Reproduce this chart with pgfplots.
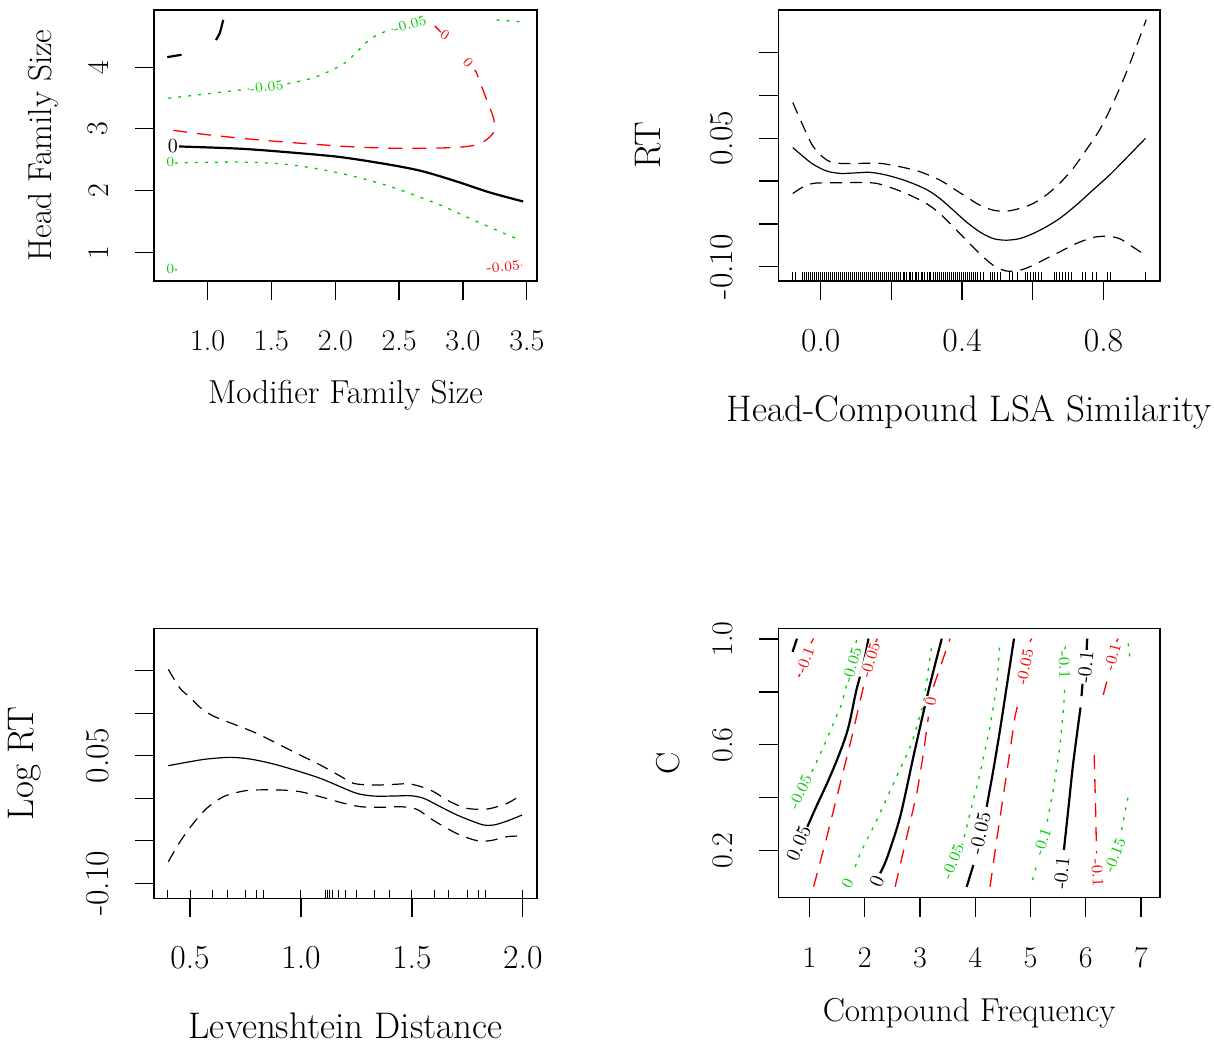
\documentclass[border=0pt]{standalone}
\usepackage{fontspec}
\usepackage{pgfplots}
\pgfplotsset{compat=1.18}

\definecolor{rred}{RGB}{255,0,0}
\definecolor{rgreen}{RGB}{0,205,0}

\newcommand{\fA}{\fontsize{15}{18}\selectfont}
\newcommand{\fB}{\fontsize{16.8}{20}\selectfont}
\newcommand{\lA}{\fontsize{16.6}{20}\selectfont}
\newcommand{\lB}{\fontsize{18.5}{22}\selectfont}

\tikzset{
  lk/.style={font=\fontsize{10}{12}\selectfont, text=black, fill=white, inner sep=0.4pt},
  lr/.style={font=\fontsize{7}{8}\selectfont, text=rred, fill=white, inner sep=0.4pt},
  lg/.style={font=\fontsize{7}{8}\selectfont, text=rgreen, fill=white, inner sep=0.4pt},
  lr4/.style={lr, font=\fontsize{8}{9}\selectfont},
  lg4/.style={lg, font=\fontsize{8}{9}\selectfont},
}
\pgfplotsset{
  gam/.style 2 args={
    scale only axis, anchor=south west,
    axis line style={line width=0.65pt},
    tick pos=left, tick align=outside,
    major tick length=9.5pt,
    every tick/.style={line width=0.65pt, black},
    xticklabel style={anchor=north, inner ysep=#1},
    yticklabel style={rotate=90, anchor=south, inner ysep=#2},
    label style={inner sep=0pt},
  },
  fit/.style={black, line width=0.6pt, smooth, tension=0.5},
  se/.style={black, line width=0.6pt, smooth, tension=0.5, dash pattern=on 6pt off 4pt},
  c0/.style={black, line width=1.1pt},
  cp/.style={rred, line width=0.65pt, dash pattern=on 7pt off 5pt},
  cm/.style={rgreen, line width=0.65pt, dash pattern=on 1.5pt off 3.5pt},
  rug/.style={only marks, mark=|, black, mark options={line width=0.5pt}},
}

\begin{document}
\begin{tikzpicture}
\path[use as bounding box] (0,0) rectangle (607pt,522.5pt);

% ---- top left: contour, Modifier x Head family size
\begin{axis}[gam={15.1pt}{13.1pt},
  at={(77pt,382pt)}, width=191.5pt, height=135.5pt,
  xmin=0.58, xmax=3.58, ymin=0.533, ymax=4.927,
  xtick={1,1.5,2,2.5,3,3.5}, xticklabels={1.0,1.5,2.0,2.5,3.0,3.5},
  ytick={1,2,3,4}, yticklabels={1,2,3,4},
  tick label style={font=\fA},
  label style={font=\lA},
  xlabel={Modifier Family Size}, ylabel={Head Family Size},
  xlabel style={at={(axis description cs:0.5,-0.4207)}, anchor=center},
  ylabel style={at={(axis description cs:-0.29,0.5)}, anchor=center},
]
\addplot[c0, smooth] coordinates {(0.765,2.715) (1.253,2.678) (1.644,2.618) (2.036,2.543) (2.428,2.418) (2.689,2.309) (2.950,2.147) (3.211,1.968) (3.472,1.822)};
\addplot[c0] coordinates {(0.684,4.163) (0.796,4.201)};
\addplot[c0, smooth] coordinates {(1.065,4.44) (1.096,4.559) (1.122,4.765)};
\addplot[cp, smooth] coordinates {(0.731,2.976) (0.992,2.906) (1.383,2.824) (1.775,2.759) (2.167,2.705) (2.558,2.683) (2.950,2.699) (3.132,2.759) (3.237,2.933) (3.242,3.150) (3.185,3.475) (3.106,3.908) (3.093,3.936)};
\addplot[cp] coordinates {(2.832,4.559) (2.780,4.667)};
\addplot[cm, smooth] coordinates {(0.692,3.496) (0.992,3.567) (1.331,3.648) (1.462,3.681) (1.592,3.719) (1.827,3.827) (2.036,4.017) (2.114,4.136) (2.271,4.450) (2.401,4.586) (2.584,4.694) (2.689,4.748)};
\addplot[cm] coordinates {(3.263,4.765) (3.472,4.732)};
\addplot[cm, smooth] coordinates {(0.744,2.445) (1.253,2.461) (1.644,2.418) (2.036,2.282) (2.428,2.066) (2.819,1.767) (3.080,1.523) (3.432,1.209)};
\addplot[cm] coordinates {(0.735,0.718) (0.765,0.715)};
\addplot[cp] coordinates {(3.38,0.775) (3.46,0.79)};
\node[lk] at (axis cs:0.727,2.715) {0};
\node[lg] at (axis cs:0.709,2.455) {0};
\node[lg] at (axis cs:0.709,0.721) {0};
\node[lg, rotate=7] at (axis cs:1.462,3.681) {-0.05};
\node[lg, rotate=15] at (axis cs:2.584,4.694) {-0.05};
\node[lr, rotate=-50] at (axis cs:3.041,4.071) {0};
\node[lr, rotate=-34] at (axis cs:2.858,4.521) {0};
\node[lr, rotate=5] at (axis cs:3.315,0.764) {-0.05};
\end{axis}

% ---- top right: Head-Compound LSA Similarity
\begin{axis}[gam={14.5pt}{12.9pt},
  at={(389.15pt,382pt)}, width=190.85pt, height=135.5pt,
  xmin=-0.12, xmax=0.96, ymin=-0.1168, ymax=0.2,
  xtick={0,0.2,0.4,0.6,0.8}, xticklabels={0.0,,0.4,,0.8},
  ytick={-0.10,-0.05,0,0.05,0.10,0.15}, yticklabels={-0.10,,,0.05,,},
  tick label style={font=\fB},
  label style={font=\lB},
  xlabel={Head-Compound LSA Similarity}, ylabel={RT},
  xlabel style={at={(axis description cs:0.5,-0.4834)}, anchor=center},
  ylabel style={at={(axis description cs:-0.3414,0.5)}, anchor=center},
]
\addplot[fit] coordinates {(-0.079,0.0391) (-0.049,0.0285) (-0.021,0.0195) (0.017,0.0117) (0.055,0.0090) (0.092,0.0094) (0.139,0.0102) (0.186,0.0070) (0.243,0.0) (0.299,-0.0098) (0.337,-0.0203) (0.375,-0.0340) (0.412,-0.0477) (0.450,-0.0594) (0.488,-0.0672) (0.525,-0.0691) (0.563,-0.0672) (0.601,-0.0613) (0.638,-0.0535) (0.676,-0.0437) (0.723,-0.0281) (0.770,-0.0105) (0.817,0.0070) (0.864,0.0266) (0.919,0.0500)};
\addplot[se] coordinates {(-0.079,0.0918) (-0.049,0.0637) (-0.021,0.0402) (0.017,0.0246) (0.055,0.0207) (0.111,0.0207) (0.168,0.0207) (0.224,0.0168) (0.281,0.0109) (0.337,0.0012) (0.375,-0.0086) (0.412,-0.0184) (0.450,-0.0281) (0.488,-0.0340) (0.525,-0.0352) (0.563,-0.0320) (0.601,-0.0262) (0.638,-0.0164) (0.676,-0.0027) (0.714,0.0148) (0.751,0.0363) (0.789,0.0598) (0.827,0.0910) (0.864,0.1262) (0.893,0.1574) (0.921,0.1887)};
\addplot[se] coordinates {(-0.079,-0.0145) (-0.049,-0.0066) (-0.021,-0.0027) (0.017,-0.0020) (0.064,-0.0020) (0.111,-0.0016) (0.158,-0.0027) (0.205,-0.0086) (0.252,-0.0164) (0.299,-0.0262) (0.337,-0.0379) (0.375,-0.0535) (0.412,-0.0691) (0.450,-0.0848) (0.488,-0.0984) (0.525,-0.1051) (0.563,-0.1043) (0.601,-0.0984) (0.638,-0.0906) (0.676,-0.0828) (0.723,-0.0730) (0.770,-0.0660) (0.808,-0.0645) (0.845,-0.0672) (0.883,-0.0770) (0.919,-0.0867)};
\addplot[rug, mark size=2.2pt] table[row sep=\\] {
x y\\
-0.079 -0.1117\\ -0.072 -0.1117\\ -0.052 -0.1117\\ -0.046 -0.1117\\ -0.041 -0.1117\\ -0.035 -0.1117\\
-0.029 -0.1117\\ -0.024 -0.1117\\ -0.018 -0.1117\\ -0.012 -0.1117\\ -0.007 -0.1117\\ -0.001 -0.1117\\
0.005 -0.1117\\ 0.011 -0.1117\\ 0.016 -0.1117\\ 0.022 -0.1117\\ 0.028 -0.1117\\ 0.033 -0.1117\\
0.039 -0.1117\\ 0.045 -0.1117\\ 0.050 -0.1117\\ 0.056 -0.1117\\ 0.062 -0.1117\\ 0.067 -0.1117\\
0.073 -0.1117\\ 0.079 -0.1117\\ 0.085 -0.1117\\ 0.090 -0.1117\\ 0.096 -0.1117\\ 0.102 -0.1117\\
0.107 -0.1117\\ 0.113 -0.1117\\ 0.119 -0.1117\\ 0.124 -0.1117\\ 0.130 -0.1117\\ 0.136 -0.1117\\
0.141 -0.1117\\ 0.147 -0.1117\\ 0.153 -0.1117\\ 0.159 -0.1117\\ 0.164 -0.1117\\ 0.170 -0.1117\\
0.176 -0.1117\\ 0.181 -0.1117\\ 0.187 -0.1117\\ 0.193 -0.1117\\ 0.198 -0.1117\\ 0.204 -0.1117\\
0.210 -0.1117\\ 0.215 -0.1117\\ 0.221 -0.1117\\ 0.227 -0.1117\\ 0.233 -0.1117\\ 0.238 -0.1117\\
0.244 -0.1117\\ 0.250 -0.1117\\ 0.255 -0.1117\\ 0.261 -0.1117\\ 0.267 -0.1117\\ 0.272 -0.1117\\
0.278 -0.1117\\ 0.284 -0.1117\\ 0.289 -0.1117\\ 0.295 -0.1117\\ 0.301 -0.1117\\ 0.307 -0.1117\\
0.312 -0.1117\\ 0.318 -0.1117\\ 0.324 -0.1117\\ 0.329 -0.1117\\ 0.335 -0.1117\\ 0.341 -0.1117\\
0.346 -0.1117\\ 0.352 -0.1117\\ 0.358 -0.1117\\ 0.363 -0.1117\\ 0.369 -0.1117\\ 0.375 -0.1117\\
0.381 -0.1117\\ 0.386 -0.1117\\ 0.392 -0.1117\\ 0.398 -0.1117\\ 0.403 -0.1117\\ 0.409 -0.1117\\
0.415 -0.1117\\ 0.420 -0.1117\\ 0.426 -0.1117\\ 0.432 -0.1117\\ 0.438 -0.1117\\ 0.444 -0.1117\\
0.452 -0.1117\\ 0.461 -0.1117\\ 0.480 -0.1117\\ 0.486 -0.1117\\ 0.493 -0.1117\\ 0.501 -0.1117\\
0.508 -0.1117\\ 0.533 -0.1117\\ 0.544 -0.1117\\ 0.558 -0.1117\\ 0.578 -0.1117\\ 0.586 -0.1117\\
0.593 -0.1117\\ 0.601 -0.1117\\ 0.608 -0.1117\\ 0.616 -0.1117\\ 0.625 -0.1117\\ 0.661 -0.1117\\
0.668 -0.1117\\ 0.676 -0.1117\\ 0.683 -0.1117\\ 0.693 -0.1117\\ 0.701 -0.1117\\ 0.710 -0.1117\\
0.740 -0.1117\\ 0.749 -0.1117\\ 0.770 -0.1117\\ 0.780 -0.1117\\ 0.810 -0.1117\\ 0.819 -0.1117\\
0.919 -0.1117\\
};
\end{axis}

% ---- bottom left: Levenshtein Distance
\begin{axis}[gam={14.5pt}{12.9pt},
  at={(77pt,73.35pt)}, width=191.5pt, height=135pt,
  xmin=0.3375, xmax=2.064, ymin=-0.1176, ymax=0.2,
  xtick={0.5,1.0,1.5,2.0}, xticklabels={0.5,1.0,1.5,2.0},
  ytick={-0.10,-0.05,0,0.05,0.10,0.15}, yticklabels={-0.10,,,0.05,,},
  tick label style={font=\fB},
  label style={font=\lB},
  xlabel={Levenshtein Distance}, ylabel={Log RT},
  xlabel style={at={(axis description cs:0.5,-0.474)}, anchor=center},
  ylabel style={at={(axis description cs:-0.3368,0.5)}, anchor=center},
]
\addplot[fit] coordinates {(0.402,0.0384) (0.5,0.0431) (0.575,0.0462) (0.681,0.0482) (0.771,0.0462) (0.876,0.0404) (0.981,0.0325) (1.087,0.0235) (1.177,0.0137) (1.252,0.0058) (1.327,0.0027) (1.418,0.0027) (1.493,0.0031) (1.553,0.0) (1.628,-0.0098) (1.703,-0.0196) (1.779,-0.0275) (1.824,-0.0314) (1.869,-0.0314) (1.929,-0.0267) (1.997,-0.0196)};
\addplot[se] coordinates {(0.402,0.1517) (0.455,0.1294) (0.5,0.1188) (0.545,0.1070) (0.605,0.0968) (0.711,0.0858) (0.801,0.0764) (0.906,0.0627) (0.996,0.0509) (1.087,0.0392) (1.177,0.0262) (1.237,0.0176) (1.327,0.0156) (1.418,0.0164) (1.493,0.0168) (1.583,0.0098) (1.673,-0.0040) (1.749,-0.0118) (1.839,-0.0126) (1.929,-0.0059) (1.997,0.0047)};
\addplot[se] coordinates {(0.402,-0.0746) (0.455,-0.0510) (0.515,-0.0294) (0.575,-0.0118) (0.650,0.0019) (0.726,0.0078) (0.786,0.0098) (0.906,0.0098) (0.996,0.0078) (1.087,0.0019) (1.177,-0.0047) (1.267,-0.0098) (1.357,-0.0106) (1.448,-0.0098) (1.523,-0.0130) (1.583,-0.0236) (1.658,-0.0353) (1.718,-0.0432) (1.794,-0.0498) (1.854,-0.0498) (1.929,-0.0451) (1.997,-0.0443)};
\addplot[rug, mark size=2.1pt] table[row sep=\\] {
x y\\
0.400 -0.1128\\ 0.500 -0.1128\\ 0.600 -0.1128\\ 0.667 -0.1128\\ 0.750 -0.1128\\ 0.800 -0.1128\\
0.833 -0.1128\\ 1.000 -0.1128\\ 1.111 -0.1128\\ 1.120 -0.1128\\ 1.130 -0.1128\\ 1.143 -0.1128\\
1.167 -0.1128\\ 1.200 -0.1128\\ 1.250 -0.1128\\ 1.333 -0.1128\\ 1.400 -0.1128\\ 1.500 -0.1128\\
1.600 -0.1128\\ 1.667 -0.1128\\ 1.750 -0.1128\\ 1.800 -0.1128\\ 1.833 -0.1128\\ 2.000 -0.1128\\
};
\end{axis}

% ---- bottom right: contour, Compound Frequency x C
\begin{axis}[gam={15.1pt}{13.1pt},
  at={(389.15pt,73.65pt)}, width=190.85pt, height=134.7pt,
  xmin=0.434, xmax=7.346, ymin=0.0226, ymax=1.04,
  xtick={1,2,3,4,5,6,7}, xticklabels={1,2,3,4,5,6,7},
  ytick={0.2,0.4,0.6,0.8,1.0}, yticklabels={0.2,,0.6,,1.0},
  tick label style={font=\fA},
  label style={font=\lA},
  xlabel={Compound Frequency}, ylabel={C},
  xlabel style={at={(axis description cs:0.5,-0.428)}, anchor=center},
  ylabel style={at={(axis description cs:-0.289,0.5)}, anchor=center},
]
% +se (red, dashed)
\addplot[cp] coordinates {(0.802,0.857) (0.832,0.869)};
\addplot[cp] coordinates {(1.025,0.983) (1.073,1.001)};
\addplot[cp] coordinates {(1.073,0.064) (1.314,0.253) (1.555,0.454) (1.766,0.630) (1.947,0.794) (1.99,0.832)};
\addplot[cp] coordinates {(2.19,0.985) (2.23,1.001)};
\addplot[cp] coordinates {(2.550,0.064) (2.761,0.253) (2.942,0.416) (3.062,0.567) (3.152,0.706)};
\addplot[cp] coordinates {(3.243,0.819) (3.544,1.001)};
\addplot[cp] coordinates {(4.268,0.064) (4.388,0.240) (4.569,0.492) (4.720,0.706) (4.80,0.78)};
\addplot[cp] coordinates {(4.99,0.989) (5.021,1.001)};
\addplot[cp] coordinates {(6.154,0.561) (6.176,0.39) (6.197,0.190)};
\addplot[cp] coordinates {(6.317,0.788) (6.42,0.869)};
\addplot[cp] coordinates {(6.558,0.989) (6.588,1.001)};
% -se (green, dotted)
\addplot[cm] coordinates {(1.043,0.498) (1.254,0.593) (1.585,0.756) (1.676,0.832)};
\addplot[cm] coordinates {(1.84,0.985) (1.857,1.001)};
\addplot[cm] coordinates {(1.826,0.140) (1.917,0.190) (2.218,0.316) (2.520,0.454) (2.851,0.605) (3.062,0.756) (3.213,0.976)};
\addplot[cm] coordinates {(3.755,0.215) (3.906,0.341) (4.087,0.492) (4.268,0.668) (4.388,0.819) (4.448,0.989)};
\addplot[cm] coordinates {(5.039,0.089) (5.112,0.146)};
\addplot[cm] coordinates {(5.304,0.310) (5.413,0.429) (5.533,0.593) (5.606,0.756) (5.624,0.832)};
\addplot[cm] coordinates {(5.628,0.96) (5.630,0.99)};
\addplot[cm] coordinates {(6.649,0.278) (6.787,0.423)};
\addplot[cm] coordinates {(6.769,0.983) (6.799,0.932)};
% fit (black)
\addplot[c0] coordinates {(0.693,0.951) (0.772,1.001)};
\addplot[c0, smooth] coordinates {(0.940,0.281) (1.133,0.372) (1.344,0.467) (1.555,0.574) (1.706,0.668) (1.844,0.803) (1.977,0.907) (2.067,1.001)};
\addplot[c0, smooth] coordinates {(2.278,0.115) (2.399,0.171) (2.640,0.328) (2.893,0.567) (3.152,0.803) (3.394,1.001)};
\addplot[c0] coordinates {(3.846,0.064) (3.966,0.146)};
\addplot[c0, smooth] coordinates {(4.207,0.366) (4.328,0.505) (4.448,0.655) (4.569,0.819) (4.702,1.001)};
\addplot[c0, smooth] coordinates {(5.606,0.203) (5.684,0.354) (5.774,0.530) (5.907,0.741)};
\addplot[c0] coordinates {(5.925,0.784) (5.943,0.832)};
\addplot[c0] coordinates {(6.016,0.951) (6.028,1.001)};
% contour labels
\node[lk, rotate=66] at (axis cs:0.802,0.228) {0.05};
\node[lk, rotate=67] at (axis cs:2.218,0.083) {0};
\node[lk, rotate=77] at (axis cs:4.087,0.266) {-0.05};
\node[lk, rotate=84] at (axis cs:5.564,0.115) {-0.1};
\node[lk, rotate=84] at (axis cs:5.998,0.894) {-0.1};
\node[lr4, rotate=69] at (axis cs:0.922,0.920) {-0.1};
\node[lr4, rotate=73] at (axis cs:2.098,0.920) {-0.05};
\node[lr4, rotate=80] at (axis cs:3.195,0.762) {0};
\node[lr4, rotate=78] at (axis cs:4.901,0.894) {-0.05};
\node[lr4, rotate=-87] at (axis cs:6.215,0.115) {-0.1};
\node[lr4, rotate=75] at (axis cs:6.486,0.932) {-0.1};
\node[lg4, rotate=65] at (axis cs:0.832,0.423) {-0.05};
\node[lg4, rotate=73] at (axis cs:1.766,0.901) {-0.05};
\node[lg4, rotate=63] at (axis cs:1.688,0.077) {0};
\node[lg4, rotate=68] at (axis cs:3.593,0.159) {-0.05};
\node[lg4, rotate=72] at (axis cs:5.214,0.234) {-0.1};
\node[lg4, rotate=-88] at (axis cs:5.612,0.901) {-0.1};
\node[lg4, rotate=68] at (axis cs:6.528,0.184) {-0.15};
\end{axis}
\end{tikzpicture}
\end{document}
